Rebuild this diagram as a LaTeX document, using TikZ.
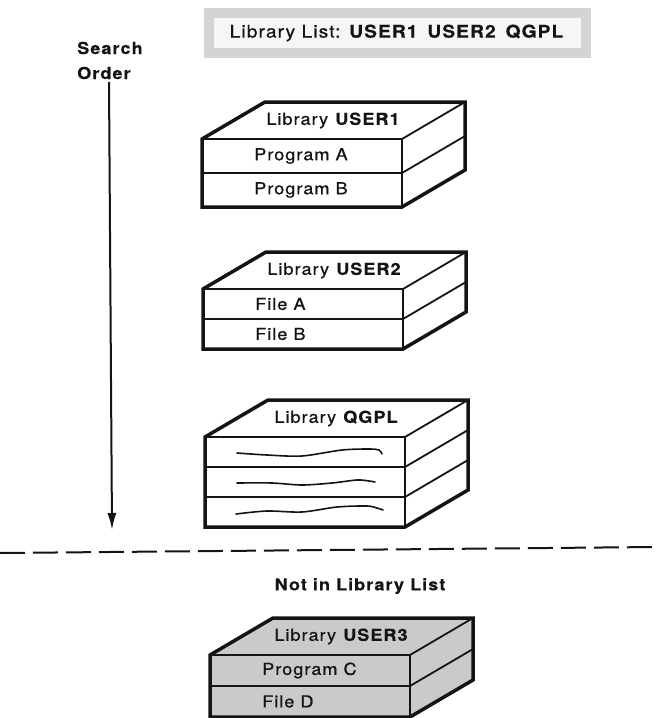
\documentclass[tikz,border=0pt]{standalone}
\usepackage{fontspec}
\setmainfont{TeX Gyre Heros}[FakeStretch=1.1, LetterSpace=6, UprightFeatures={FakeBold=0.7}, BoldFeatures={FakeBold=0.3}]
\usetikzlibrary{arrows.meta, calc}

\definecolor{ink}{RGB}{20, 20, 20}
\definecolor{greyfill}{RGB}{202, 202, 202}
\definecolor{bandbg}{RGB}{212, 212, 212}
\definecolor{bandin}{RGB}{246, 246, 246}

% box geometry: front width, depth offset
\newcommand{\libw}{200}
\newcommand{\libdx}{63}
\newcommand{\libdy}{37}

\tikzset{
    boxfont/.style={font=\fontsize{16.5}{18}\selectfont},
    band/.style={rectangle, fill=bandin, draw=bandbg, line width=10pt, minimum width=377pt, minimum height=40pt, font=\fontsize{17.5}{20}\selectfont, text=ink},
    sidetxt/.style={anchor=west, inner sep=0pt, text=ink, font=\fontsize{16.5}{18}\selectfont\bfseries},
    toptxt/.style={boxfont, inner sep=0pt, text=ink},
    rowtxt/.style={boxfont, anchor=west, inner sep=0pt, text=ink},
    outer/.style={draw=ink, line width=3.5pt, line join=miter},
    thinedge/.style={draw=ink, line width=1.8pt},
    scribble/.style={draw=ink, line width=1.6pt, line cap=round},
    orderarrow/.style={-{Latex[length=17pt, width=9pt]}, draw=ink, line width=2pt},
    cutline/.style={draw=ink, line width=2pt, dash pattern=on 25pt off 8pt}
}

% #1 name, #2 #3 front top-left corner, #4 rows, #5 row height, #6 fill
\newcommand{\libshell}[6]{%
  \begin{scope}[shift={(#2,#3)}]
    \pgfmathsetmacro{\libh}{#4*#5}
    \fill[fill=#6] (0,0) -- (\libdx,-\libdy) -- (\libw+\libdx,-\libdy) -- (\libw+\libdx,\libh-\libdy) -- (\libw,\libh) -- (0,\libh) -- cycle;
    \draw[thinedge] (0,0) -- (\libw,0) -- (\libw+\libdx,-\libdy);
    \draw[thinedge] (\libw,0) -- (\libw,\libh);
    \foreach \k in {1,...,#4} {
      \draw[thinedge] (0,\k*#5) -- (\libw,\k*#5) -- (\libw+\libdx,\k*#5-\libdy);
      \coordinate (#1-r\k) at (52,{(\k-0.5)*#5});
    }
    \draw[outer] (0,0) -- (\libdx,-\libdy) -- (\libw+\libdx,-\libdy) -- (\libw+\libdx,\libh-\libdy) -- (\libw,\libh) -- (0,\libh) -- cycle;
    \coordinate (#1-top) at ({\libw/2+\libdx/2},{-\libdy/2});
  \end{scope}}

\begin{document}
\begin{tikzpicture}[x=1pt, y=-1pt]
    \useasboundingbox (0,0) rectangle (656,718);

    % Header
    \node (liblist) [band] at (397,33) {Library List:\enspace\textbf{USER1}\enspace\textbf{USER2}\enspace\textbf{QGPL}};

    % Search order
    \node (search) [sidetxt] at (77,48) {Search};
    \node (order) [sidetxt] at (77,73) {Order};
    \coordinate (ordtop) at (109,82);
    \coordinate (ordend) at (112,530);
    \draw [orderarrow] (ordtop) -- (ordend);

    % USER1
    \libshell{u1}{202}{139}{2}{34}{white}
    \node (u1lib) [toptxt] at (u1-top) {Library \textbf{USER1}};
    \node (u1a) [rowtxt] at (u1-r1) {Program A};
    \node (u1b) [rowtxt] at (u1-r2) {Program B};

    % USER2
    \libshell{u2}{203}{289}{2}{30}{white}
    \node (u2lib) [toptxt] at (u2-top) {Library \textbf{USER2}};
    \node (u2a) [rowtxt] at (u2-r1) {File A};
    \node (u2b) [rowtxt] at (u2-r2) {File B};

    % QGPL
    \libshell{q}{205}{437}{3}{30}{white}
    \node (qlib) [toptxt] at (q-top) {Library \textbf{QGPL}};
    \begin{scope}[shift={(q-r1)}]
        \draw [scribble] plot[smooth] coordinates {(-20,1) (10,3) (45,4) (85,-2) (112,-3) (122,-2) (125,2)};
    \end{scope}
    \begin{scope}[shift={(q-r2)}]
        \draw [scribble] plot[smooth] coordinates {(-20,1) (15,1) (45,3) (75,1) (100,-2) (112,-1) (118,0)};
    \end{scope}
    \begin{scope}[shift={(q-r3)}]
        \draw [scribble] plot[smooth] coordinates {(-21,2) (10,-1) (45,0) (80,-5) (110,-6) (120,-4) (126,-2)};
    \end{scope}

    % Divider
    \coordinate (cutL) at (0,553);
    \coordinate (cutR) at (656,547);
    \draw [cutline] (cutL) -- (cutR);

    % Outside the list
    \node (notlist) [sidetxt, anchor=center] at (360,586) {Not in Library List};
    \libshell{u3}{210}{655}{2}{31}{greyfill}
    \node (u3lib) [toptxt] at (u3-top) {Library \textbf{USER3}};
    \node (u3a) [rowtxt] at (u3-r1) {Program C};
    \node (u3b) [rowtxt] at (u3-r2) {File D};

\end{tikzpicture}
\end{document}
